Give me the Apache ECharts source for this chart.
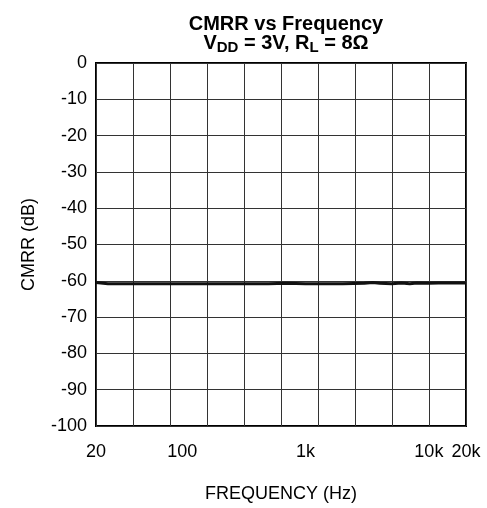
<!DOCTYPE html>
<html>
<head>
<meta charset="utf-8">
<script src="https://cdn.jsdelivr.net/npm/echarts@6/dist/echarts.min.js"></script>
<style>html,body{margin:0;padding:0;background:#fff;}#c{width:487px;height:508px;}</style>
</head>
<body>
<div id="c"></div>
<script>
// Data
var freq = [20, 25, 30, 40, 50, 70, 100, 150, 200, 300, 500, 700, 1000, 1500, 2000, 3000, 3500, 4000, 5000, 6000, 7000, 8000, 10000, 12000, 15000, 18000, 20000];
var cmrr = [-60.5, -60.8, -60.8, -60.8, -60.8, -60.8, -60.8, -60.8, -60.8, -60.8, -60.8, -60.7, -60.8, -60.8, -60.8, -60.7, -60.5, -60.7, -60.8, -60.6, -60.8, -60.6, -60.7, -60.6, -60.6, -60.6, -60.6];
var xTicks = [20, 100, 1000, 10000, 20000];
var xTickLabels = ['20', '100', '1k', '10k', '20k'];
var yMin = -100, yMax = 0, yStep = 10;

var FONT = 'Liberation Sans, Arial, sans-serif';
var chart = echarts.init(document.getElementById('c'), null, {renderer: 'canvas'});
var pts = freq.map(function (f, i) { return [f, cmrr[i]]; });

chart.setOption({
  animation: false,
  backgroundColor: '#fff',
  title: {
    text: '{b|CMRR vs Frequency}\n{b|V}{s|DD}{b| = 3V, R}{s|L}{b| = 8Ω}',
    left: 281, textAlign: 'center', top: 10,
    textStyle: {
      rich: {
        b: {fontFamily: FONT, fontWeight: 'bold', fontSize: 20, color: '#000', lineHeight: 19},
        s: {fontFamily: FONT, fontWeight: 'bold', fontSize: 15, color: '#000', lineHeight: 19, padding: [8, 0, 0, 0]}
      }
    }
  },
  grid: {left: 96, right: 21, top: 63, bottom: 73, show: true, borderColor: '#000', borderWidth: 2, containLabel: false},
  xAxis: [{
    type: 'log', logBase: 10, min: 20, max: 20000,
    name: 'FREQUENCY (Hz)', nameLocation: 'middle', nameGap: 59,
    nameTextStyle: {fontFamily: FONT, fontSize: 18, color: '#000'},
    axisLine: {show: false}, axisTick: {show: false}, splitLine: {show: false},
    axisLabel: {
      customValues: xTicks, margin: 17, fontFamily: FONT, fontSize: 18, color: '#000',
      formatter: function (v) { var i = xTicks.indexOf(Math.round(v)); return i >= 0 ? xTickLabels[i] : ''; }
    }
  }, {
    type: 'value', min: 0, max: 10, interval: 1, position: 'top',
    axisLine: {show: false}, axisTick: {show: false}, axisLabel: {show: false},
    splitLine: {show: true, lineStyle: {color: '#333', width: 1}}
  }],
  yAxis: {
    type: 'value', min: yMin, max: yMax, interval: yStep,
    name: 'CMRR (dB)', nameLocation: 'middle', nameGap: 58,
    nameTextStyle: {fontFamily: FONT, fontSize: 18, color: '#000'},
    axisLine: {show: false}, axisTick: {show: false},
    axisLabel: {margin: 9, fontFamily: FONT, fontSize: 18, color: '#000'},
    splitLine: {show: true, lineStyle: {color: '#333', width: 1}}
  },
  series: [{
    type: 'line', xAxisIndex: 0, data: pts, symbol: 'none', smooth: false,
    lineStyle: {color: '#111', width: 3}, z: 5
  }]
});
</script>
</body>
</html>
